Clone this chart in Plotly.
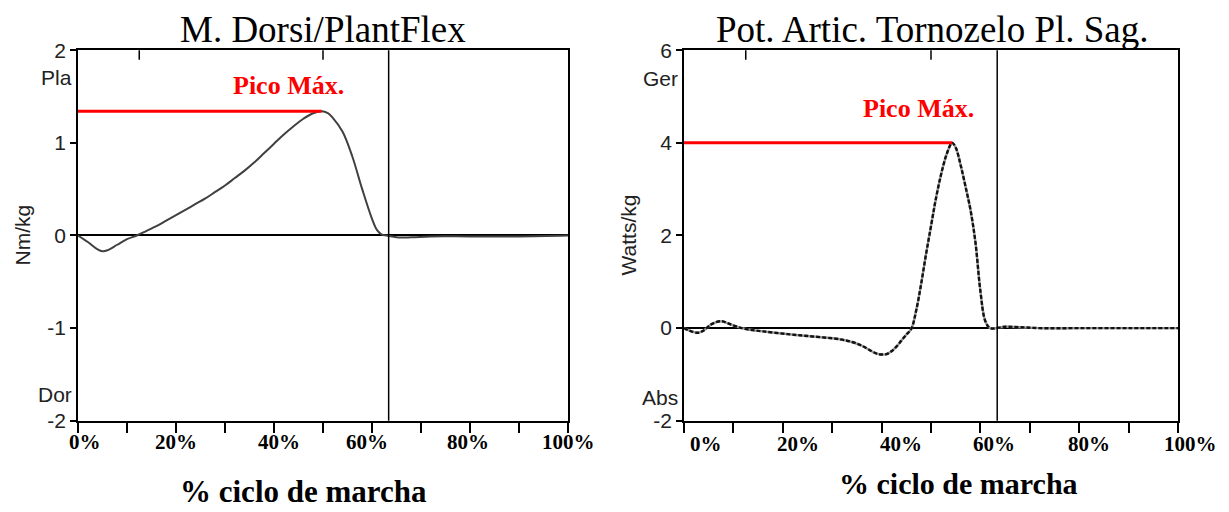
import plotly.graph_objects as go

# ---------------- data ----------------
# Left panel: ankle moment (Nm/kg) vs % gait cycle
moment_pct = [0, 2, 4, 5, 6, 8, 10, 12, 14, 16, 18, 20, 22, 24, 26, 28, 30, 32, 34, 36,
              38, 40, 42, 44, 46, 48, 49.7, 51, 52, 54, 56, 58, 60, 61, 62, 63, 65, 68,
              72, 80, 90, 100]
moment_val = [0.0, -0.07, -0.15, -0.17, -0.16, -0.10, -0.04, 0.0, 0.05, 0.10, 0.16, 0.22,
              0.28, 0.34, 0.40, 0.47, 0.54, 0.62, 0.70, 0.79, 0.89, 0.99, 1.09, 1.18, 1.26,
              1.32, 1.34, 1.32, 1.27, 1.12, 0.85, 0.50, 0.18, 0.06, 0.01, 0.0, -0.02, -0.02,
              -0.01, -0.01, -0.01, 0.0]

# Right panel: ankle power (Watts/kg) vs % gait cycle
power_pct = [0, 1, 2.8, 4, 5.5, 7.5, 9, 11, 13, 16, 21, 26, 31.5, 34, 36, 38, 39, 40, 41,
             42, 43, 44, 45, 46, 47, 48, 49, 50, 51, 52, 53, 54, 54.3, 55, 56, 57, 58, 59,
             60, 61, 62, 65, 68, 72, 80, 90, 100]
power_val = [0.0, -0.05, -0.10, -0.05, 0.08, 0.15, 0.10, 0.02, -0.03, -0.07, -0.13, -0.18,
             -0.24, -0.30, -0.38, -0.50, -0.55, -0.57, -0.56, -0.50, -0.40, -0.27, -0.14,
             -0.02, 0.38, 0.95, 1.60, 2.20, 2.80, 3.30, 3.70, 3.97, 4.0, 3.90, 3.52, 3.05,
             2.55, 1.85, 0.80, 0.15, 0.0, 0.03, 0.02, 0.0, 0.0, 0.0, 0.0]

# Gait events (% cycle)
opp_foot_off = 12.5
opp_foot_contact = 50.0
foot_off = 63.4

# Peak markers
moment_peak_pct, moment_peak_val = 49.7, 1.34
power_peak_pct, power_peak_val = 54.3, 4.0

# Tick labels
x_tick_text = ["0%", "20%", "40%", "60%", "80%", "100%"]
x_tick_pos_left = [1.5, 20, 41, 59, 79.5, 100]
x_tick_pos_right = [4.5, 23, 44, 62.7, 82, 102.5]
y_left_vals = [2, 1, 0, -1, -2]
y_left_text = ["2", "1", "0", "-1", "-2"]
y_right_vals = [6, 4, 2, 0, -2]
y_right_text = ["6", "4", "2", "0", "-2"]

titles = ["M. Dorsi/PlantFlex", "Pot. Artic. Tornozelo Pl. Sag."]
y_titles = ["Nm/kg", "Watts/kg"]
x_title = "% ciclo de marcha"
peak_label = "Pico Máx."

# ---------------- figure ----------------
W, H = 1229, 512
fig = go.Figure()

fig.add_trace(go.Scatter(x=moment_pct, y=moment_val, mode="lines", line=dict(color="#404040", width=2, shape="spline"),
                         xaxis="x", yaxis="y", showlegend=False, hoverinfo="skip"))
fig.add_trace(go.Scatter(x=power_pct, y=power_val, mode="lines", line=dict(color="#9a9a9a", width=2.4, shape="spline"),
                         xaxis="x2", yaxis="y2", showlegend=False, hoverinfo="skip"))
fig.add_trace(go.Scatter(x=power_pct, y=power_val, mode="lines",
                         line=dict(color="#111111", width=2.4, shape="spline", dash="4px,2px"),
                         xaxis="x2", yaxis="y2", showlegend=False, hoverinfo="skip"))
# peak lines
fig.add_trace(go.Scatter(x=[0, moment_peak_pct], y=[moment_peak_val, moment_peak_val], mode="lines",
                         line=dict(color="#ff0000", width=3), xaxis="x", yaxis="y", showlegend=False, hoverinfo="skip"))
fig.add_trace(go.Scatter(x=[0, power_peak_pct], y=[power_peak_val, power_peak_val], mode="lines",
                         line=dict(color="#ff0000", width=3), xaxis="x2", yaxis="y2", showlegend=False, hoverinfo="skip"))

TOP, BOT = 40, 428
ydom = [(H - BOT) / H, (H - TOP) / H]
xdom1 = [78 / W, 568 / W]
xdom2 = [684 / W, 1178 / W]

common_x = dict(range=[0, 100], showgrid=False, zeroline=False, showticklabels=False,
                ticks="outside", ticklen=10, tickwidth=1.5, tickcolor="black", dtick=10, tick0=0,
                showline=True, linecolor="black", linewidth=1.5, mirror=True, fixedrange=True)
common_y = dict(showgrid=False, zeroline=True, zerolinecolor="black", zerolinewidth=1.5,
                ticks="outside", ticklen=6, tickwidth=1.5, tickcolor="black",
                showline=True, linecolor="black", linewidth=1.5, mirror=True,
                tickfont=dict(family="Liberation Sans, Arial", size=21, color="#222"), domain=ydom,
                fixedrange=True)

fig.update_layout(
    width=W, height=H, margin=dict(l=0, r=0, t=0, b=0),
    paper_bgcolor="white", plot_bgcolor="white",
    xaxis=dict(domain=xdom1, anchor="y", **common_x),
    xaxis2=dict(domain=xdom2, anchor="y2", **common_x),
    yaxis=dict(anchor="x", range=[-2, 2], tickvals=y_left_vals, ticktext=y_left_text, **common_y),
    yaxis2=dict(anchor="x2", range=[-2, 6], tickvals=y_right_vals, ticktext=y_right_text, **common_y),
)

plot_h = BOT - TOP
shapes = []
for xa, ya in (("x", "y"), ("x2", "y2")):
    shapes.append(dict(type="line", xref=xa, yref=ya + " domain", x0=foot_off, x1=foot_off, y0=0, y1=1,
                       line=dict(color="black", width=1.5)))
    for ev in (opp_foot_off, opp_foot_contact):
        shapes.append(dict(type="line", xref=xa, yref=ya + " domain", x0=ev, x1=ev, y0=1, y1=1 - 10 / plot_h,
                           line=dict(color="black", width=1.5)))
fig.update_layout(shapes=shapes)


def px_x(dom, p):
    return dom[0] + p / 100 * (dom[1] - dom[0])


ann = []
serif = "Liberation Serif, Times New Roman, serif"
sans = "Liberation Sans, Arial, sans-serif"
# titles
ann.append(dict(text=titles[0], x=323 / W, y=(H - 18) / H, xref="paper", yref="paper", showarrow=False,
                font=dict(family=serif, size=37, color="black"), xanchor="center", yanchor="middle"))
ann.append(dict(text=titles[1], x=932 / W, y=(H - 18) / H, xref="paper", yref="paper", showarrow=False,
                font=dict(family=serif, size=37, color="black"), xanchor="center", yanchor="middle"))
# x axis titles
ann.append(dict(text="<b>" + x_title + "</b>", x=303 / W, y=(H - 502) / H, xref="paper", yref="paper", showarrow=False,
                font=dict(family=serif, size=31, color="black"), xanchor="center", yanchor="middle"))
ann.append(dict(text="<b>" + x_title + "</b>", x=958 / W, y=(H - 494) / H, xref="paper", yref="paper", showarrow=False,
                font=dict(family=serif, size=30, color="black"), xanchor="center", yanchor="middle"))
# x tick labels
for txt, p in zip(x_tick_text, x_tick_pos_left):
    ann.append(dict(text="<b>" + txt + "</b>", x=px_x(xdom1, p), y=(H - 450) / H, xref="paper", yref="paper",
                    showarrow=False, font=dict(family=serif, size=21, color="black"),
                    xanchor="center", yanchor="middle"))
for txt, p in zip(x_tick_text, x_tick_pos_right):
    ann.append(dict(text="<b>" + txt + "</b>", x=px_x(xdom2, p), y=(H - 452) / H, xref="paper", yref="paper",
                    showarrow=False, font=dict(family=serif, size=21, color="black"),
                    xanchor="center", yanchor="middle"))
# y titles
ann.append(dict(text=y_titles[0], x=22 / W, y=0.5, xref="paper", yref="y domain", textangle=-90, showarrow=False,
                font=dict(family=sans, size=21, color="#222"), xanchor="center", yanchor="middle"))
ann.append(dict(text=y_titles[1], x=628 / W, y=0.5, xref="paper", yref="y2 domain", textangle=-90, showarrow=False,
                font=dict(family=sans, size=21, color="#222"), xanchor="center", yanchor="middle"))
# direction labels
for txt, yv, xa, ya in (("Pla", 1.70, "x", "y"), ("Dor", -1.72, "x", "y"),
                        ("Ger", 5.39, "x2", "y2"), ("Abs", -1.5, "x2", "y2")):
    ann.append(dict(text=txt, x=0, y=yv, xref=xa + " domain", yref=ya, showarrow=False, xshift=-4,
                    font=dict(family=sans, size=21, color="#222"), xanchor="right", yanchor="middle"))
# peak labels
ann.append(dict(text="<b>" + peak_label + "</b>", x=42.9, y=1.62, xref="x", yref="y", showarrow=False,
                font=dict(family=serif, size=26, color="#ff0000"), xanchor="center", yanchor="middle"))
ann.append(dict(text="<b>" + peak_label + "</b>", x=47.4, y=4.74, xref="x2", yref="y2", showarrow=False,
                font=dict(family=serif, size=26, color="#ff0000"), xanchor="center", yanchor="middle"))
fig.update_layout(annotations=ann)

fig.write_html("out.html")
